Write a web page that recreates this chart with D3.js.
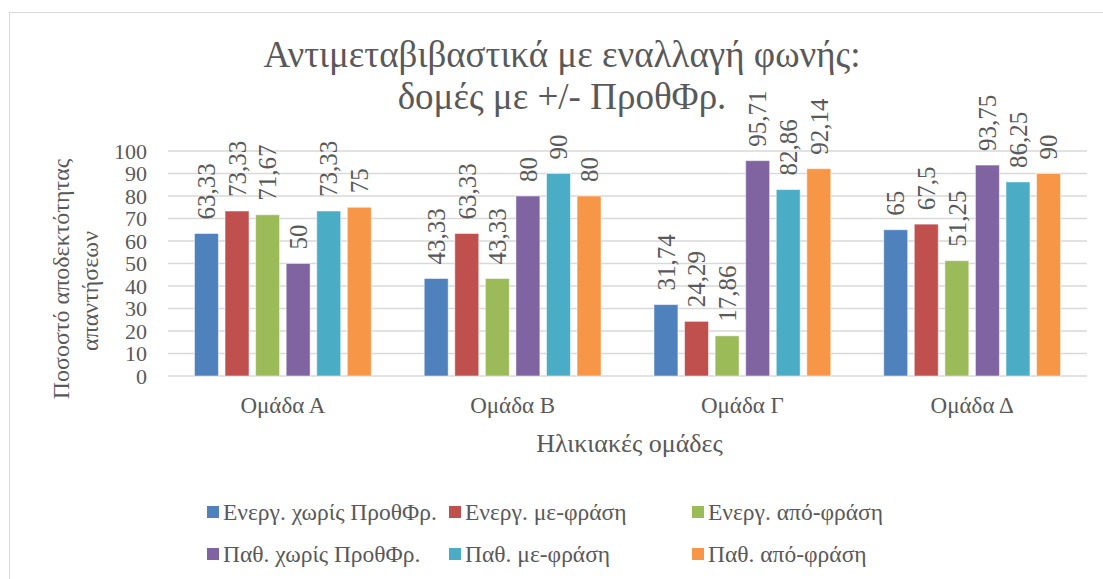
<!DOCTYPE html>
<html>
<head>
<meta charset="utf-8">
<script src="https://cdn.jsdelivr.net/npm/d3@7"></script>
<style>
  html, body { margin: 0; padding: 0; background: #fff; }
  svg text { font-family: "Liberation Serif", "Times New Roman", "DejaVu Serif", serif !important; }
</style>
</head>
<body>
<svg id="chart" width="1103" height="579"></svg>
<script>
// ---- data ----
const categories = ["Ομάδα Α", "Ομάδα Β", "Ομάδα Γ", "Ομάδα Δ"];
const seriesNames = ["Ενεργ. χωρίς ΠροθΦρ.", "Ενεργ. με-φράση", "Ενεργ. από-φράση",
                     "Παθ. χωρίς ΠροθΦρ.", "Παθ. με-φράση", "Παθ. από-φράση"];
const seriesColors = ["#4F81BD", "#C0504D", "#9BBB59", "#8064A2", "#4BACC6", "#F79646"];
const energChoris = [63.33, 43.33, 31.74, 65];
const energMe     = [73.33, 63.33, 24.29, 67.5];
const energApo    = [71.67, 43.33, 17.86, 51.25];
const pathChoris  = [50, 80, 95.71, 93.75];
const pathMe      = [73.33, 90, 82.86, 86.25];
const pathApo     = [75, 80, 92.14, 90];
const seriesValues = [energChoris, energMe, energApo, pathChoris, pathMe, pathApo];
const yTicks = [0, 10, 20, 30, 40, 50, 60, 70, 80, 90, 100];
const titleLines = ["Αντιμεταβιβαστικά με εναλλαγή φωνής:", "δομές με +/- ΠροθΦρ."];
const yTitleLines = ["Ποσοστό αποδεκτότητας", "απαντήσεων"];
const xTitle = "Ηλικιακές ομάδες";

// ---- layout ----
const textColor = "#595959";
const gridColor = "#d9d9d9";
const plot = { left: 168, right: 1087, top: 151, bottom: 376 };

const svg = d3.select("#chart");

svg.append("rect")
  .attr("x", 9.5).attr("y", 12.5)
  .attr("width", 1200).attr("height", 700)
  .attr("fill", "none").attr("stroke", gridColor).attr("stroke-width", 1);

const x0 = d3.scaleBand().domain(categories).range([plot.left, plot.right]).padding(0);
const x1 = d3.scaleBand().domain(d3.range(seriesNames.length))
  .range([0, x0.bandwidth()]).paddingInner(0.216).paddingOuter(0.866);
const y = d3.scaleLinear().domain([0, 100]).range([plot.bottom, plot.top]);

svg.append("g").selectAll("line").data(yTicks).join("line")
  .attr("x1", plot.left).attr("x2", plot.right)
  .attr("y1", d => y(d)).attr("y2", d => y(d))
  .attr("stroke", gridColor).attr("stroke-width", 1.6);

const yAxis = d3.axisLeft(y).tickValues(yTicks).tickSize(0).tickPadding(0);
const gy = svg.append("g").attr("transform", `translate(${plot.left - 21},0)`).call(yAxis);
gy.select(".domain").remove();
gy.selectAll("text").attr("fill", textColor).attr("font-size", 22).attr("dy", "0.33em");

const fmt = v => String(v).replace(".", ",");
const groups = svg.append("g").selectAll("g").data(categories).join("g")
  .attr("transform", d => `translate(${x0(d)},0)`);

groups.selectAll("rect")
  .data((c, ci) => seriesValues.map((vals, si) => ({ si, v: vals[ci] })))
  .join("rect")
  .attr("x", d => x1(d.si))
  .attr("y", d => y(d.v))
  .attr("width", x1.bandwidth())
  .attr("height", d => y(0) - y(d.v))
  .attr("fill", d => seriesColors[d.si])
  .attr("stroke", "#ffffff").attr("stroke-opacity", 0.5).attr("stroke-width", 1);

groups.selectAll("text.lbl")
  .data((c, ci) => seriesValues.map((vals, si) => ({ si, v: vals[ci] })))
  .join("text").attr("class", "lbl")
  .attr("transform", d => `translate(${x1(d.si) + x1.bandwidth() / 2},${y(d.v) - 14}) rotate(-90)`)
  .attr("dy", "0.35em")
  .attr("text-anchor", "start")
  .attr("font-size", 25)
  .attr("fill", textColor)
  .text(d => fmt(d.v));

const xAxis = d3.axisBottom(x0).tickSize(0).tickPadding(0);
const gx = svg.append("g").attr("transform", `translate(0,${plot.bottom + 37})`).call(xAxis);
gx.select(".domain").remove();
gx.selectAll("text").attr("fill", textColor).attr("font-size", 23).attr("dy", 0);

svg.append("text")
  .attr("x", (plot.left + plot.right) / 2 + 2).attr("y", 452)
  .attr("text-anchor", "middle").attr("font-size", 26).attr("fill", textColor)
  .text(xTitle);

const yTitleX = [69, 98];
const yTitleY = [279, 291];
yTitleLines.forEach((t, i) => {
  svg.append("text")
    .attr("transform", `translate(${yTitleX[i]},${yTitleY[i]}) rotate(-90)`)
    .attr("text-anchor", "middle").attr("font-size", 24).attr("fill", textColor)
    .text(t);
});

titleLines.forEach((t, i) => {
  svg.append("text")
    .attr("x", 562).attr("y", 67 + i * 42)
    .attr("text-anchor", "middle").attr("font-size", 37).attr("fill", textColor)
    .text(t);
});

const legendCols = [207, 449, 692];
const legendRows = [512, 554];
const legend = svg.append("g");
seriesNames.forEach((name, i) => {
  const cx = legendCols[i % 3], cy = legendRows[Math.floor(i / 3)];
  legend.append("rect")
    .attr("x", cx).attr("y", cy - 6).attr("width", 12).attr("height", 12)
    .attr("fill", seriesColors[i]);
  legend.append("text")
    .attr("x", cx + 16).attr("y", cy).attr("dy", "0.35em")
    .attr("font-size", 23.5).attr("fill", textColor)
    .text(name);
});
</script>
</body>
</html>
